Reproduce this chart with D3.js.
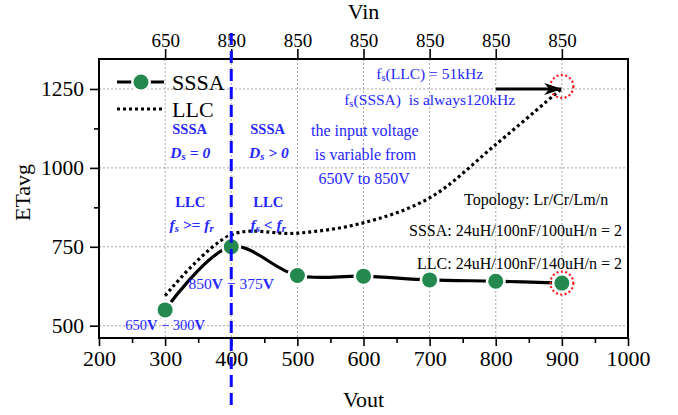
<!DOCTYPE html>
<html>
<head>
<meta charset="utf-8">
<script src="https://cdn.jsdelivr.net/npm/d3@7"></script>
<style>
body { margin: 0; background: #fff; }
svg text { font-family: "Liberation Serif", "Times New Roman", serif; }
</style>
</head>
<body>
<svg id="chart"></svg>
<script>
// values
var vout = [300, 400, 500, 600, 700, 800, 900];
var sssa = [550, 750, 659, 657, 645, 641, 635];
var llc = [595, 788, 793, 826, 905, 1074, 1252];
var vinLabels = ["650", "850", "850", "850", "850", "850", "850"];
var xTicks = [200, 300, 400, 500, 600, 700, 800, 900, 1000];
var xMinor = [250, 350, 450, 550, 650, 750, 850, 950];
var yTicks = [500, 750, 1000, 1250];
var yMinor = [875, 1125];

const canvas = {width: 678, height: 415};
const margin = {top: 59, left: 99, bottom: 77, right: 50};
const w = canvas.width - margin.left - margin.right;
const h = canvas.height - margin.top - margin.bottom;

const blue = "#2626ff";
const green = "#23894f";

const x = d3.scaleLinear().domain([200, 1000]).range([0, w]);
const y = d3.scaleLinear().domain([461, 1345]).range([h, 0]);

const svg = d3.select("#chart")
    .attr("width", canvas.width)
    .attr("height", canvas.height);

const g = svg.append("g")
    .attr("transform", "translate(" + margin.left + "," + margin.top + ")");

// grid
g.append("g").selectAll("line")
    .data(vout)
    .enter().append("line")
    .attr("x1", d => x(d)).attr("x2", d => x(d))
    .attr("y1", 0).attr("y2", h)
    .attr("stroke", "#a8a8a8").attr("stroke-width", 1)
    .attr("stroke-dasharray", "2,2");

g.append("g").selectAll("line")
    .data(yTicks)
    .enter().append("line")
    .attr("x1", 0).attr("x2", w)
    .attr("y1", d => y(d)).attr("y2", d => y(d))
    .attr("stroke", "#a8a8a8").attr("stroke-width", 1)
    .attr("stroke-dasharray", "2,2");

// axes
function styleAxis(sel, size) {
    sel.select(".domain").remove();
    sel.selectAll(".tick line").attr("stroke-width", 1.6);
    sel.selectAll("text")
        .attr("font-family", "Liberation Serif, serif")
        .attr("font-size", size)
        .attr("fill", "#000");
}

g.append("g")
    .attr("transform", "translate(0," + h + ")")
    .call(d3.axisBottom(x).tickValues(xTicks).tickSize(8).tickPadding(4).tickFormat(d3.format("d")))
    .call(s => styleAxis(s, 22));

g.append("g")
    .attr("transform", "translate(0," + h + ")")
    .call(d3.axisBottom(x).tickValues(xMinor).tickSize(5).tickFormat(""))
    .call(s => styleAxis(s, 10));

g.append("g")
    .call(d3.axisLeft(y).tickValues(yTicks).tickSize(9).tickPadding(6).tickFormat(d3.format("d")))
    .call(s => styleAxis(s, 21.5));

g.append("g")
    .call(d3.axisLeft(y).tickValues(yMinor).tickSize(5).tickFormat(""))
    .call(s => styleAxis(s, 10));

g.append("g")
    .call(d3.axisTop(x).tickValues(vout).tickSize(10).tickPadding(2)
        .tickFormat((d, i) => vinLabels[i]))
    .call(s => styleAxis(s, 19));

// frame
g.append("rect")
    .attr("width", w).attr("height", h)
    .attr("fill", "none").attr("stroke", "#000").attr("stroke-width", 2);

// axis titles
svg.append("text")
    .attr("x", margin.left + x(600)).attr("y", 407)
    .attr("text-anchor", "middle").attr("font-size", 22)
    .text("Vout");

svg.append("text")
    .attr("x", margin.left + x(600)).attr("y", 19)
    .attr("text-anchor", "middle").attr("font-size", 22)
    .text("Vin");

svg.append("text")
    .attr("transform", "translate(30," + (margin.top + h / 2 - 6) + ") rotate(-90)")
    .attr("text-anchor", "middle").attr("font-size", 22)
    .text("ETavg");

// LLC dotted curve
const line = d3.line()
    .x((d, i) => x(vout[i]))
    .y(d => y(d))
    .curve(d3.curveCatmullRom);

g.append("path")
    .attr("d", line(llc))
    .attr("fill", "none").attr("stroke", "#000")
    .attr("stroke-width", 3.2).attr("stroke-dasharray", "3,3");

// SSSA curve with markers
g.append("path")
    .attr("d", line(sssa))
    .attr("fill", "none").attr("stroke", "#000")
    .attr("stroke-width", 3.2);

g.append("g").selectAll("circle")
    .data(sssa)
    .enter().append("circle")
    .attr("cx", (d, i) => x(vout[i])).attr("cy", d => y(d))
    .attr("r", 10).attr("fill", "#fff");

g.append("g").selectAll("circle")
    .data(sssa)
    .enter().append("circle")
    .attr("cx", (d, i) => x(vout[i])).attr("cy", d => y(d))
    .attr("r", 7.5).attr("fill", green);

// red dotted highlight circles
[[900, 1258], [900, sssa[6]]].forEach(function (p) {
    g.append("circle")
        .attr("cx", x(p[0])).attr("cy", y(p[1]))
        .attr("r", 11.5).attr("fill", "none")
        .attr("stroke", "#ff1a1a").attr("stroke-width", 2.2)
        .attr("stroke-dasharray", "2,2.4");
});

// arrow
svg.append("defs").append("marker")
    .attr("id", "arrow")
    .attr("viewBox", "0 0 18 12")
    .attr("refX", 17).attr("refY", 6)
    .attr("markerWidth", 18).attr("markerHeight", 12)
    .attr("markerUnits", "userSpaceOnUse")
    .attr("orient", "auto")
    .append("path")
    .attr("d", "M0,0 L18,6 L0,12 L5,6 Z")
    .attr("fill", "#000");

g.append("line")
    .attr("x1", x(800)).attr("x2", x(899))
    .attr("y1", y(1250)).attr("y2", y(1250))
    .attr("stroke", "#000").attr("stroke-width", 3)
    .attr("marker-end", "url(#arrow)");

// blue dashed divider at Vout = 400
svg.append("line")
    .attr("x1", margin.left + x(400)).attr("x2", margin.left + x(400))
    .attr("y1", 33).attr("y2", 408)
    .attr("stroke", "#0a0aff").attr("stroke-width", 3)
    .attr("stroke-dasharray", "12,6");

// legend
const leg = svg.append("g");
leg.append("line")
    .attr("x1", 117).attr("x2", 164).attr("y1", 82).attr("y2", 82)
    .attr("stroke", "#000").attr("stroke-width", 3.2);
leg.append("circle").attr("cx", 141).attr("cy", 82).attr("r", 10).attr("fill", "#fff");
leg.append("circle").attr("cx", 141).attr("cy", 82).attr("r", 7.5).attr("fill", green);
leg.append("text").attr("x", 172).attr("y", 82).attr("dy", "0.35em")
    .attr("font-size", 22).text("SSSA");
leg.append("line")
    .attr("x1", 117).attr("x2", 164).attr("y1", 109).attr("y2", 109)
    .attr("stroke", "#000").attr("stroke-width", 3.2).attr("stroke-dasharray", "3,3");
leg.append("text").attr("x", 172).attr("y", 109).attr("dy", "0.35em")
    .attr("font-size", 22).text("LLC");

// annotations: parts are [text, kind] where kind is "sub" or "b"
const notes = [
    {vx: 700, vy: 1298, size: 15.5, color: blue, parts: [["f"], ["s", "sub"], ["(LLC) = 51kHz"]]},
    {vx: 700, vy: 1216, size: 15.5, color: blue, parts: [["f"], ["s", "sub"], ["(SSSA)  is always120kHz"]]},
    {vx: 337, vy: 1123, size: 14.5, color: blue, weight: "bold", parts: [["SSSA"]]},
    {vx: 338, vy: 1048, size: 15.5, color: blue, weight: "bold", style: "italic", parts: [["D"], ["s", "sub"], [" = 0"]]},
    {vx: 455, vy: 1123, size: 14.5, color: blue, weight: "bold", parts: [["SSSA"]]},
    {vx: 457, vy: 1048, size: 15.5, color: blue, weight: "bold", style: "italic", parts: [["D"], ["s", "sub"], [" > 0"]]},
    {vx: 602, vy: 1119, size: 16, color: blue, parts: [["the input voltage"]]},
    {vx: 603, vy: 1044, size: 16, color: blue, parts: [["is variable from"]]},
    {vx: 601, vy: 966, size: 16, color: blue, parts: [["650V to 850V"]]},
    {vx: 338, vy: 893, size: 14.5, color: blue, weight: "bold", parts: [["LLC"]]},
    {vx: 340, vy: 819, size: 15.5, color: blue, weight: "bold", style: "italic", parts: [["f"], ["s", "sub"], [" >= f"], ["r", "sub"]]},
    {vx: 456, vy: 893, size: 14.5, color: blue, weight: "bold", parts: [["LLC"]]},
    {vx: 456, vy: 819, size: 15.5, color: blue, weight: "bold", style: "italic", parts: [["f"], ["s", "sub"], [" < f"], ["r", "sub"]]},
    {vx: 400, vy: 634, size: 15.5, color: blue, parts: [["850"], ["V", "b"], [" \u2212 375"], ["V", "b"]]},
    {vx: 300, vy: 502, size: 14.5, color: blue, parts: [["650"], ["V", "b"], [" \u2212 300"], ["V", "b"]]},
    {vx: 861, vy: 899, size: 16, color: "#000", parts: [["Topology: Lr/Cr/Lm/n"]]},
    {vx: 991, vy: 801, size: 16, color: "#000", anchor: "end", parts: [["SSSA: 24uH/100nF/100uH/n = 2"]]},
    {vx: 991, vy: 696, size: 16, color: "#000", anchor: "end", parts: [["LLC: 24uH/100nF/140uH/n = 2"]]}
];

notes.forEach(function (n) {
    const t = g.append("text")
        .attr("x", x(n.vx)).attr("y", y(n.vy)).attr("dy", "0.35em")
        .attr("text-anchor", n.anchor || "middle")
        .attr("font-size", n.size)
        .attr("fill", n.color)
        .attr("font-weight", n.weight || "normal")
        .attr("font-style", n.style || "normal")
        .attr("xml:space", "preserve");
    n.parts.forEach(function (p) {
        const s = t.append("tspan").text(p[0]);
        if (p[1] === "sub") {
            s.attr("font-size", n.size * 0.7).attr("baseline-shift", "-20%");
        } else if (p[1] === "b") {
            s.attr("font-weight", "bold");
        }
    });
});
</script>
</body>
</html>
